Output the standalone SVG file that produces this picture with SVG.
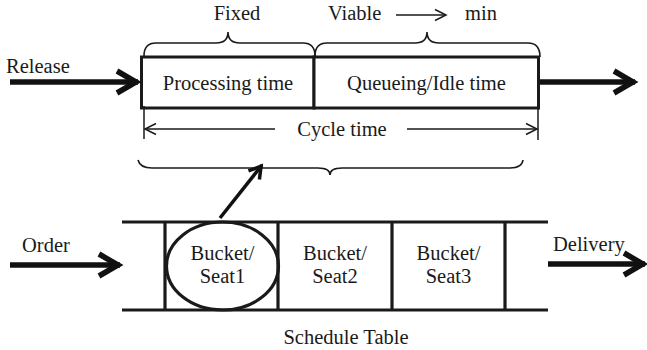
<svg xmlns="http://www.w3.org/2000/svg" width="647" height="350" viewBox="0 0 647 350">
<defs>
<style>
.c{text-anchor:middle}
.box{fill:#fff;stroke:#1a1a1a;stroke-width:3}
.tbl{fill:none;stroke:#1a1a1a;stroke-width:3.2}
.brace{fill:none;stroke:#1a1a1a;stroke-width:1.6}
.thick{fill:none;stroke:#111;stroke-width:5.5}
.thin{fill:none;stroke:#1a1a1a;stroke-width:1.5}
.mid{fill:none;stroke:#111;stroke-width:3.5}
.tick{stroke:#1a1a1a;stroke-width:1.5}
</style>
<marker id="mThick" markerUnits="userSpaceOnUse" viewBox="-28 -16 32 32" markerWidth="32" markerHeight="32" refX="0" refY="0" orient="auto">
<path d="M-21,-11 L-2,0 L-21,11" fill="none" stroke="#111" stroke-width="5.5" stroke-linejoin="miter"/>
</marker>
<marker id="mThin" markerUnits="userSpaceOnUse" viewBox="-14 -8 16 16" markerWidth="16" markerHeight="16" refX="0" refY="0" orient="auto">
<path d="M-11,-5.5 L0,0 L-11,5.5" fill="none" stroke="#1a1a1a" stroke-width="1.5"/>
</marker>
<marker id="mMid" markerUnits="userSpaceOnUse" viewBox="-18 -12 22 24" markerWidth="22" markerHeight="24" refX="0" refY="0" orient="auto">
<path d="M-13,-7 L-1.5,0 L-13,7" fill="none" stroke="#111" stroke-width="3.5"/>
</marker>
</defs>
<rect width="647" height="350" fill="#fff"/>
<g font-family="Liberation Serif, Times New Roman, serif" font-size="20.5" fill="#1a1a1a">

<g id="labels-top">
<text class="c" x="237" y="20">Fixed</text>
<text x="328" y="20">Viable</text>
<text x="465" y="20">min</text>
<text x="6" y="73">Release</text>
</g>

<g id="processing">
<rect class="box" x="141.5" y="57" width="172.5" height="51"/>
<text class="c" x="228" y="90">Processing time</text>
</g>
<g id="queueing">
<rect class="box" x="314" y="57" width="224.5" height="51"/>
<text class="c" x="426.5" y="90">Queueing/Idle time</text>
</g>

<g id="braces">
<path class="brace" d="M144,56 Q144,43 156,43 L216,43 Q228,43 228,32 Q228,43 240,43 L303,43 Q315,43 315,56"/>
<path class="brace" d="M315,56 Q315,43 327,43 L415,43 Q427,43 427,32 Q427,43 439,43 L528,43 Q540,43 540,57"/>
<path class="brace" d="M138,160 Q140,168 152,168 L318,168 Q330,168 330,175 Q330,168 342,168 L510,168 Q522,168 523,160"/>
</g>

<g id="cycle-time">
<line class="tick" x1="144" y1="106" x2="144" y2="139"/>
<line class="tick" x1="538" y1="106" x2="538" y2="140"/>
<text class="c" x="342" y="136">Cycle time</text>
</g>

<g id="schedule-table">
<line class="tbl" x1="122" y1="222" x2="548" y2="222"/>
<line class="tbl" x1="122" y1="310" x2="548" y2="310"/>
<line class="tbl" x1="165" y1="222" x2="165" y2="310"/>
<line class="tbl" x1="278" y1="222" x2="278" y2="310"/>
<line class="tbl" x1="392" y1="222" x2="392" y2="310"/>
<line class="tbl" x1="505" y1="222" x2="505" y2="310"/>
<text class="c" x="346" y="344">Schedule Table</text>
</g>

<g id="bucket1">
<ellipse class="tbl" cx="222.5" cy="266" rx="56" ry="44"/>
<text class="c" x="222.5" y="260">Bucket/</text>
<text class="c" x="222.5" y="283">Seat1</text>
</g>
<g id="bucket2">
<text class="c" x="335" y="260">Bucket/</text>
<text class="c" x="335" y="283">Seat2</text>
</g>
<g id="bucket3">
<text class="c" x="448.5" y="260">Bucket/</text>
<text class="c" x="448.5" y="283">Seat3</text>
</g>

<g id="labels-bottom">
<text x="22" y="252">Order</text>
<text x="553" y="251">Delivery</text>
</g>
</g>

<g id="connectors">
<line class="thick" x1="10" y1="82" x2="138" y2="82" marker-end="url(#mThick)"/>
<line class="thick" x1="540" y1="82" x2="635" y2="82" marker-end="url(#mThick)"/>
<line class="thick" x1="10" y1="265" x2="120" y2="265" marker-end="url(#mThick)"/>
<line class="thick" x1="548" y1="264" x2="645" y2="264" marker-end="url(#mThick)"/>
<line class="thin" x1="396" y1="15" x2="446" y2="15" marker-end="url(#mThin)"/>
<line class="thin" x1="275" y1="129" x2="145" y2="129" marker-end="url(#mThin)"/>
<line class="thin" x1="407" y1="129" x2="537" y2="129" marker-end="url(#mThin)"/>
<line class="mid" x1="220" y1="218" x2="262" y2="165" marker-end="url(#mMid)"/>
</g>
</svg>
